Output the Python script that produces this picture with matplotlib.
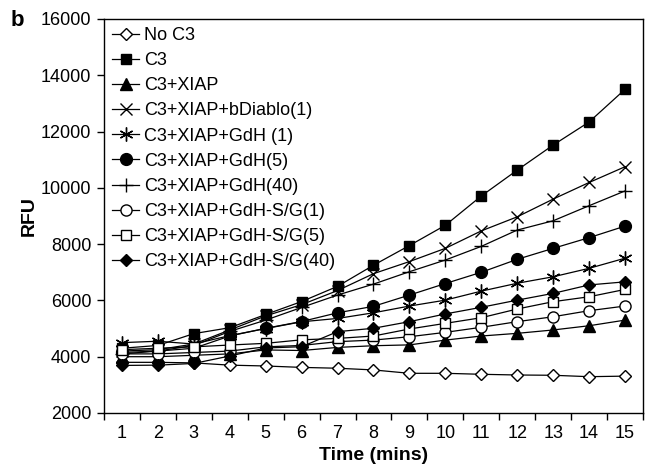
import matplotlib.pyplot as plt
from matplotlib.ticker import FixedLocator

plt.rcParams['font.family'] = ['Liberation Sans', 'DejaVu Sans']

# Tiempo (min)
minutos = list(range(1, 16))

# Valores RFU
no_c3 = [3800, 3800, 3780, 3700, 3670, 3620, 3590, 3530, 3410, 3410, 3375, 3350, 3340, 3290, 3310]
c3 = [4300, 4400, 4820, 5030, 5500, 5960, 6500, 7250, 7950, 8670, 9710, 10630, 11520, 12340, 13500]
c3_xiap = [4000, 4000, 4050, 4100, 4240, 4220, 4330, 4390, 4420, 4590, 4735, 4830, 4950, 5100, 5300]
bdiablo = [4200, 4250, 4450, 4950, 5450, 5850, 6350, 6950, 7380, 7850, 8470, 8970, 9600, 10190, 10750]
gdh_1 = [4500, 4550, 4450, 4750, 5000, 5240, 5360, 5560, 5800, 6010, 6330, 6610, 6840, 7140, 7500]
gdh_5 = [4150, 4200, 4300, 4735, 5010, 5250, 5560, 5790, 6190, 6600, 7000, 7460, 7850, 8230, 8640]
gdh_40 = [4100, 4200, 4400, 4900, 5300, 5750, 6190, 6580, 7020, 7435, 7920, 8500, 8830, 9365, 9890]
sg_1 = [4100, 4100, 4150, 4200, 4350, 4400, 4535, 4590, 4710, 4865, 5045, 5245, 5420, 5635, 5800]
sg_5 = [4250, 4300, 4350, 4415, 4475, 4600, 4650, 4735, 4985, 5185, 5385, 5695, 5955, 6130, 6390]
sg_40 = [3690, 3700, 3760, 4025, 4310, 4355, 4890, 5010, 5245, 5520, 5755, 6010, 6250, 6550, 6660]

series = [
    ('No C3', no_c3, 'D', 'white', 6),
    ('C3', c3, 's', 'black', 7.5),
    ('C3+XIAP', c3_xiap, '^', 'black', 8),
    ('C3+XIAP+bDiablo(1)', bdiablo, 'x', 'black', 9),
    ('C3+XIAP+GdH (1)', gdh_1, (6, 2, 0), 'black', 10),
    ('C3+XIAP+GdH(5)', gdh_5, 'o', 'black', 8.5),
    ('C3+XIAP+GdH(40)', gdh_40, '+', 'black', 10),
    ('C3+XIAP+GdH-S/G(1)', sg_1, 'o', 'white', 8),
    ('C3+XIAP+GdH-S/G(5)', sg_5, 's', 'white', 7.5),
    ('C3+XIAP+GdH-S/G(40)', sg_40, 'D', 'black', 6.5),
]

fig = plt.figure(figsize=(6.47, 4.70), dpi=100)
ax = fig.add_axes([0.1607, 0.1213, 0.8331, 0.8383])

for nombre, valores, marcador, relleno, tam in series:
    ax.plot(minutos, valores, color='black', linewidth=0.9, marker=marcador,
            markersize=tam, markerfacecolor=relleno, markeredgecolor='black',
            markeredgewidth=1.0, label=nombre)

ax.set_xlim(0.5, 15.5)
ax.set_ylim(2000, 16000)
ax.set_yticks(range(2000, 16001, 2000))
ax.set_xticks(minutos)
ax.xaxis.set_minor_locator(FixedLocator([m + 0.5 for m in range(0, 16)]))
ax.tick_params(axis='x', which='major', length=0, pad=9, labelsize=13)
ax.tick_params(axis='x', which='minor', length=5, direction='out', width=1)
ax.tick_params(axis='y', length=5, direction='out', width=1, labelsize=13, pad=4)
for s in ax.spines.values():
    s.set_linewidth(1.0)

ax.set_xlabel('Time (mins)', fontsize=14, fontweight='bold', labelpad=3)
ax.set_ylabel('RFU', fontsize=14, fontweight='bold', labelpad=2)
fig.text(0.016, 0.945, 'b', fontsize=16, fontweight='bold')

ax.legend(loc='upper left', bbox_to_anchor=(0.0, 1.0), frameon=False,
          fontsize=13, handlelength=1.5, handletextpad=0.25,
          labelspacing=0.45, borderaxespad=0.2, borderpad=0.25)

fig.savefig('out.png', dpi=100)
